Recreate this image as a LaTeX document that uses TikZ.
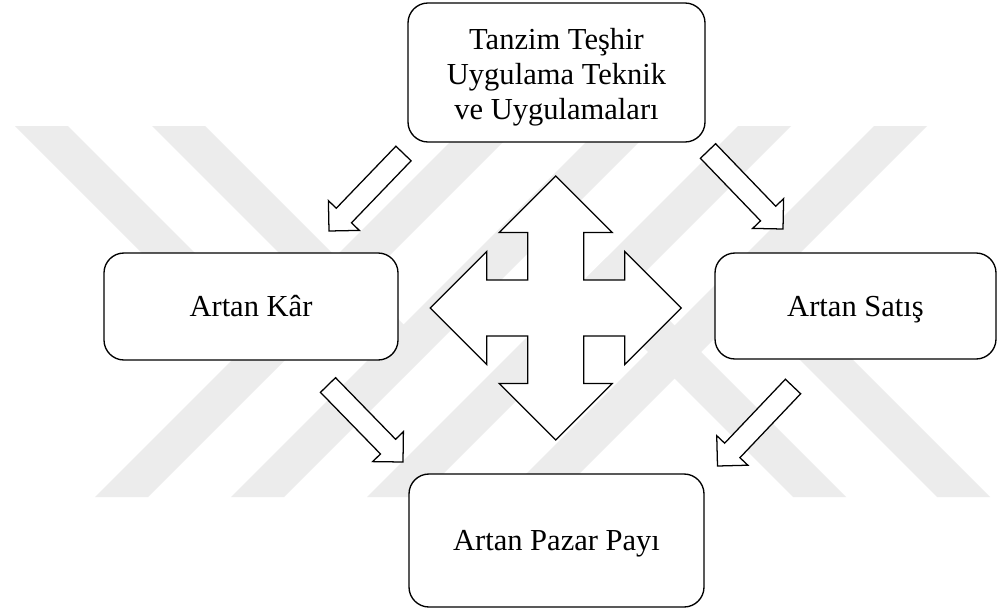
\documentclass[tikz,border=0pt]{standalone}
\usepackage{fontspec}
\setmainfont{Liberation Serif}
\usetikzlibrary{calc}

\definecolor{wmark}{RGB}{236,236,236}

\tikzset{
  box/.style={draw=black, line width=1pt, rounded corners=15pt, fill=white,
    inner sep=0pt, align=center, font=\fontsize{22.9}{26.5}\selectfont},
  oneline/.style={text height=20.6pt, text depth=5.5pt},
  arrowbody/.style={draw=black, line width=0.95pt, fill=white, line join=miter},
  band/.style={fill=wmark, draw=none},
}

% hollow block arrow from a tail point to a tip point
\newcommand{\blockarr}[2]{%
  \coordinate (hb) at ($(#2)!16.1pt!(#1)$);
  \draw[arrowbody] ($(#1)!7.9pt!90:(#2)$) -- ($(hb)!7.9pt!90:(#2)$)
    -- ($(hb)!16.1pt!90:(#2)$) -- (#2) -- ($(hb)!16.1pt!-90:(#2)$)
    -- ($(hb)!7.9pt!-90:(#2)$) -- ($(#1)!7.9pt!-90:(#2)$) -- cycle;
}
% rising stripe: left edge at the bottom line, full height
\newcommand{\risestripe}[1]{%
  \fill[band] (#1,497) -- (#1+53,497) -- (#1+424,126) -- (#1+371,126) -- cycle;}

\begin{document}
\begin{tikzpicture}[x=0.75pt, y=-0.75pt]
\useasboundingbox (0,0) rectangle (998,614);
\fill[white] (0,0) rectangle (998,614);

% light background emblem of diagonal stripes
\risestripe{95}
\risestripe{231}
\risestripe{367}
\risestripe{503}
% falling stripes that end on a rising one
\fill[band] (15,126) -- (68,126) -- (293,351) -- (266.5,377.5) -- cycle;
\fill[band] (152,126) -- (205,126) -- (429.5,350.5) -- (403,377) -- cycle;
\fill[band] (793,497) -- (846,497) -- (606.5,257.5) -- (580,284) -- cycle;
\fill[band] (937,497) -- (990,497) -- (746.5,253.5) -- (720,280) -- cycle;

% boxes
\node[box, minimum width=222.75pt, minimum height=104.25pt] (tanzim) at (556.5,72.5)
  {\rule{0pt}{23pt}Tanzim Teşhir\\Uygulama Teknik\\ve Uygulamaları};
\node[box, oneline, minimum width=220.5pt, minimum height=80.25pt] (kar) at (251,306.5) {Artan Kâr};
\node[box, oneline, minimum width=210.75pt, minimum height=79.5pt] (satis) at (855.5,306) {Artan Satış};
\node[box, oneline, minimum width=221.25pt, minimum height=99.75pt] (pazar) at (556.5,540.5) {Artan Pazar Payı};

% diagonal block arrows
\coordinate (a1t) at (403.5,153.5); \coordinate (a1h) at (329,231);
\coordinate (a2t) at (708,151);     \coordinate (a2h) at (783,229);
\coordinate (a3t) at (328,385);     \coordinate (a3h) at (403,462);
\coordinate (a4t) at (793,386.5);   \coordinate (a4h) at (717.5,466);
\blockarr{a1t}{a1h}
\blockarr{a2t}{a2h}
\blockarr{a3t}{a3h}
\blockarr{a4t}{a4h}

% four-way arrow in the middle
\coordinate (q) at (555.7,308);
\begin{scope}[shift={(q)}]
\draw[arrowbody] (0,-132) -- (56.5,-75.5) -- (28,-75.5) -- (28,-28) -- (69,-28)
  -- (69,-56.5) -- (125.5,0) -- (69,56.5) -- (69,28) -- (28,28) -- (28,75.5)
  -- (56.5,75.5) -- (0,132) -- (-56.5,75.5) -- (-28,75.5) -- (-28,28) -- (-69,28)
  -- (-69,56.5) -- (-125.5,0) -- (-69,-56.5) -- (-69,-28) -- (-28,-28)
  -- (-28,-75.5) -- (-56.5,-75.5) -- cycle;
\end{scope}
\end{tikzpicture}
\end{document}
